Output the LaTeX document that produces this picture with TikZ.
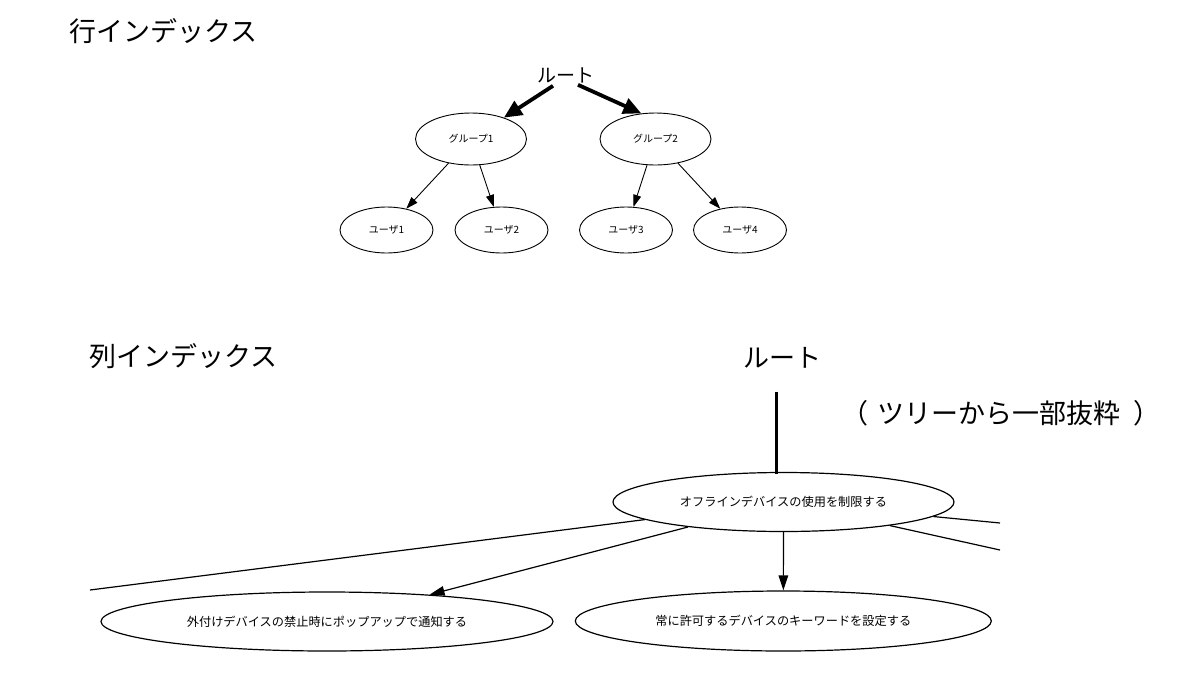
\documentclass[tikz,border=0pt]{standalone}
\usepackage{fontspec}
\setmainfont{Noto Sans CJK JP}
\usetikzlibrary{arrows.meta,shapes.geometric}
\begin{document}
\begin{tikzpicture}[x=1pt,y=-1pt,
  bigtxt/.style={inner sep=0pt,font=\fontsize{27}{30}\selectfont},
  midtxt/.style={inner sep=0pt,font=\fontsize{19}{22}\selectfont},
  smallell/.style={draw,ellipse,inner sep=0pt,line width=0.9pt,font=\fontsize{10}{12}\selectfont},
  bigell/.style={draw,ellipse,inner sep=0pt,line width=1.2pt,font=\fontsize{12.2}{14}\selectfont},
  thickarrow/.style={line width=3.8pt,-{Triangle[length=18pt,width=16pt]}},
  thinarrow/.style={line width=0.9pt,-{Triangle[length=12pt,width=8pt]}},
  midarrow/.style={line width=1.2pt,-{Triangle[length=15pt,width=9.5pt]}},
  plainline/.style={line width=1.2pt},
  rootline/.style={line width=3pt}
]
\fill[white] (0,0) rectangle (1200,691);
\useasboundingbox (0,0) rectangle (1200,691);

% ---------- top: row index ----------
\node[bigtxt,anchor=west] (title1) at (69,31) {行インデックス};
\node[midtxt] (root1) at (566,75) {ルート};
\node[smallell,minimum width=111pt,minimum height=52pt] (g1) at (471,139) {グループ1};
\node[smallell,minimum width=111pt,minimum height=52pt] (g2) at (655.5,139) {グループ2};
\node[smallell,minimum width=93pt,minimum height=46pt] (u1) at (386.5,230) {ユーザ1};
\node[smallell,minimum width=93pt,minimum height=46pt] (u2) at (501.5,230) {ユーザ2};
\node[smallell,minimum width=93pt,minimum height=46pt] (u3) at (626,230) {ユーザ3};
\node[smallell,minimum width=93pt,minimum height=46pt] (u4) at (740,230) {ユーザ4};

\draw[thickarrow] ([xshift=-13pt,yshift=-3pt]root1.south) -- (g1.33);
\draw[thickarrow] ([xshift=12pt,yshift=-2pt]root1.south) -- (g2.119);
\draw[thinarrow] (g1) -- (u1);
\draw[thinarrow] (g1) -- (u2);
\draw[thinarrow] (g2) -- (u3);
\draw[thinarrow] (g2) -- (u4);

% ---------- bottom: column index ----------
\node[bigtxt,anchor=west] (title2) at (89,356) {列インデックス};
\node[bigtxt,font=\fontsize{26}{30}\selectfont] (root2) at (782.5,357.5) {ルート};
\node[bigtxt] (note) at (1001,413) {（\hspace{9pt}ツリーから一部抜粋\hspace{13pt}）};

\node[bigell,minimum width=341pt,minimum height=59pt] (top) at (783.5,502) {オフラインデバイスの使用を制限する};
\node[bigell,minimum width=452pt,minimum height=59pt] (bl) at (327,621.5) {外付けデバイスの禁止時にポップアップで通知する};
\node[bigell,minimum width=416pt,minimum height=60pt] (br) at (783.3,621) {常に許可するデバイスのキーワードを設定する};

\coordinate (r2s) at (776.7,391.7);
\coordinate (lend) at (90,590);
\coordinate (rend1) at (1000,523);
\coordinate (rend2) at (1000,550);

\draw[rootline] (r2s) -- ([yshift=-2pt]r2s |- top.north);
\draw[midarrow] (top) -- (br);
\draw[midarrow] (top) -- (bl);
\draw[plainline] (top) -- (lend);
\draw[plainline] (top) -- (rend1);
\draw[plainline] (top) -- (rend2);
\end{tikzpicture}
\end{document}
